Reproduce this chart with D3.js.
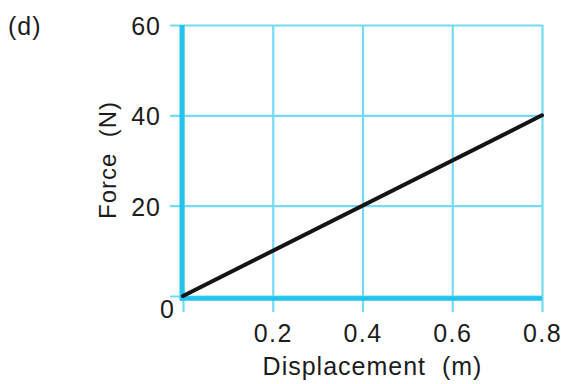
<!DOCTYPE html>
<html><head><meta charset="utf-8">
<script src="https://cdn.jsdelivr.net/npm/d3@7"></script>
<style>
html,body{margin:0;padding:0;background:#fff;}
text{font-family:"Liberation Sans",Arial,Helvetica,sans-serif;fill:#1c1c1c;white-space:pre;}
</style></head>
<body>
<svg id="c" width="561" height="384"></svg>
<script>
// Data
const panelLabel = "(d)";
const xTicks = [0.2, 0.4, 0.6, 0.8];
const yTicks = [0, 20, 40, 60];
const xValues = [0, 0.8];      // displacement (m)
const yValues = [0, 40];       // force (N)
const xTitle = "Displacement  (m)";
const yTitle = "Force  (N)";

const svg = d3.select("#c");
const x = d3.scaleLinear().domain([0, 0.8]).range([183, 542]);
const y = d3.scaleLinear().domain([0, 60]).range([296, 25]);

const gridColor = "#74daf5";
const axisColor = "#22c3ee";
const fs = 25;

// Horizontal grid lines (y axis ticks)
const gy = svg.append("g").attr("transform", `translate(${x(0)},0)`)
  .call(d3.axisLeft(y).tickValues(yTicks).tickSize(0).tickFormat(d3.format("d")));
gy.select(".domain").remove();
gy.selectAll(".tick line")
  .attr("x1", -13).attr("x2", x(0.8) - x(0))
  .attr("stroke", gridColor).attr("stroke-width", 2.2);
gy.selectAll(".tick text")
  .attr("x", -22).attr("dy", "0.38em")
  .style("font-size", fs + "px").style("letter-spacing", "1px").attr("fill", "#1c1c1c");
gy.selectAll(".tick").filter(d => d === 0).select("text")
  .attr("x", -8).attr("dy", "0.84em").attr("text-anchor", "end");

// Vertical grid lines (x axis ticks)
const gx = svg.append("g").attr("transform", `translate(0,${y(0)})`)
  .call(d3.axisBottom(x).tickValues([0].concat(xTicks)).tickSize(0).tickFormat(d3.format(".1f")));
gx.select(".domain").remove();
gx.selectAll(".tick line")
  .attr("y1", y(60) - y(0)).attr("y2", 16)
  .attr("stroke", gridColor).attr("stroke-width", 2.2);
gx.selectAll(".tick text")
  .attr("y", 36.5).attr("dy", "0.36em")
  .style("font-size", fs + "px").style("letter-spacing", "1.5px").attr("fill", "#1c1c1c");
gx.selectAll(".tick").filter(d => d === 0).select("text").remove();

// Thick axes
svg.append("line")
  .attr("x1", x(0) - 1).attr("x2", x(0) - 1)
  .attr("y1", y(60)).attr("y2", y(0) + 4.5)
  .attr("stroke", axisColor).attr("stroke-width", 5);
svg.append("line")
  .attr("x1", x(0) - 3).attr("x2", x(0.8))
  .attr("y1", y(0) + 2.5).attr("y2", y(0) + 2.5)
  .attr("stroke", axisColor).attr("stroke-width", 4.5);

// Data line
const line = d3.line().x((d, i) => x(xValues[i])).y((d, i) => y(yValues[i]));
svg.append("path").datum(xValues)
  .attr("d", line)
  .attr("fill", "none").attr("stroke", "#141414").attr("stroke-width", 4)
  .attr("stroke-linecap", "round");

// Titles
svg.append("text").attr("x", (x(0) + x(0.8)) / 2 + 10).attr("y", 375)
  .attr("text-anchor", "middle").style("font-size", fs + "px").style("letter-spacing", "1px").text(xTitle);
svg.append("text")
  .attr("transform", `translate(116,160) rotate(-90)`)
  .attr("text-anchor", "middle").style("font-size", "24px").style("letter-spacing", "1px").text(yTitle);
svg.append("text").attr("x", 8).attr("y", 35)
  .style("font-size", "25px").style("letter-spacing", "1px").text(panelLabel);
</script>
</body></html>
